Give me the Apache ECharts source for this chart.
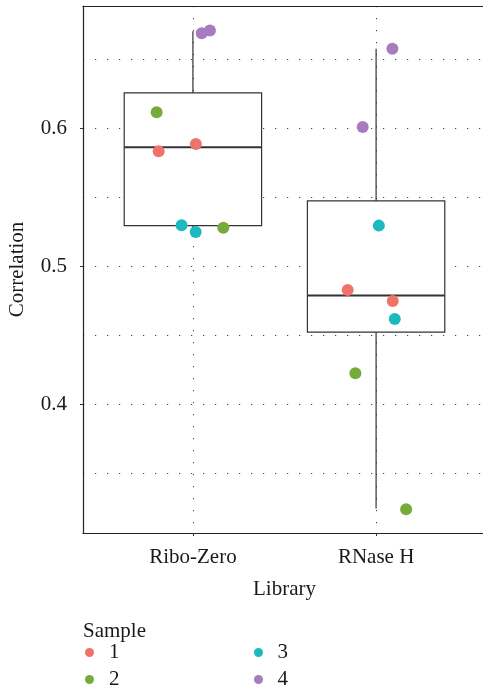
<!DOCTYPE html>
<html>
<head>
<meta charset="utf-8">
<script src="https://cdn.jsdelivr.net/npm/echarts@6/dist/echarts.min.js"></script>
<style>
  html, body { margin: 0; padding: 0; background: #fff; }
  #main { width: 483px; height: 688px; }
</style>
</head>
<body>
<div id="main"></div>
<script>
  // 分类与刻度
  const categories = ['Ribo-Zero', 'RNase H']
  const yLabelValues = [0.4, 0.5, 0.6]
  const yGridValues = [0.35, 0.4, 0.45, 0.5, 0.55, 0.6, 0.65]

  // 箱线：[x, min, Q1, median, Q3, max]
  const riboZeroBox = [1, 0.525, 0.5296, 0.5864, 0.6259, 0.6707]
  const rnaseHBox = [2, 0.3242, 0.4523, 0.4789, 0.5475, 0.6579]

  // 各样本的点（x 为抖动后的位置）
  const sample1 = [[0.813, 0.5835], [1.016, 0.5889], [1.845, 0.4829], [2.091, 0.4749]]
  const sample2 = [[0.802, 0.6118], [1.166, 0.5281], [1.887, 0.4225], [2.164, 0.3238]]
  const sample3 = [[0.938, 0.5298], [1.015, 0.525], [2.015, 0.5296], [2.102, 0.4618]]
  const sample4 = [[1.048, 0.6692], [1.093, 0.6712], [1.927, 0.6012], [2.089, 0.6579]]

  const sampleNames = ['1', '2', '3', '4']
  const colors = ['#EF7369', '#76AB3A', '#1CB9BE', '#A67CBE']

  const font = 'Liberation Serif'
  const fontSize = 21
  const dotted = { color: '#444', width: 1, type: [1.2, 10.8] }
  const frame = { show: true, lineStyle: { color: '#222', width: 1.2 } }

  const chart = echarts.init(document.getElementById('main'))

  function renderBox(params, api) {
    const x = api.value(0)
    const pMin = api.coord([x, api.value(1)])
    const pQ1 = api.coord([x, api.value(2)])
    const pMed = api.coord([x, api.value(3)])
    const pQ3 = api.coord([x, api.value(4)])
    const pMax = api.coord([x, api.value(5)])
    const w = api.size([0.75, 0])[0]
    const stroke = { stroke: '#333', lineWidth: 1.2 }
    return {
      type: 'group',
      children: [
        { type: 'line', shape: { x1: pQ3[0], y1: pQ3[1], x2: pMax[0], y2: pMax[1] }, style: stroke },
        { type: 'line', shape: { x1: pQ1[0], y1: pQ1[1], x2: pMin[0], y2: pMin[1] }, style: stroke },
        {
          type: 'rect',
          shape: { x: pQ3[0] - w / 2, y: pQ3[1], width: w, height: pQ1[1] - pQ3[1] },
          style: { fill: '#fff', stroke: '#333', lineWidth: 1.2 }
        },
        { type: 'line', shape: { x1: pMed[0] - w / 2, y1: pMed[1], x2: pMed[0] + w / 2, y2: pMed[1] }, style: { stroke: '#333', lineWidth: 2 } }
      ]
    }
  }

  const samples = [sample1, sample2, sample3, sample4]

  const legendText = { fontFamily: font, fontSize: fontSize, color: '#1a1a1a', lineHeight: 20 }

  chart.setOption({
    animation: false,
    textStyle: { fontFamily: font, color: '#1a1a1a' },
    grid: {
      left: 83,
      top: 6,
      width: 403,
      height: 527,
      outerBoundsMode: 'none',
      show: false
    },
    title: {
      text: 'Sample',
      left: 78,
      top: 616,
      textStyle: { fontFamily: font, fontSize: fontSize, fontWeight: 'normal', color: '#1a1a1a' }
    },
    legend: [
      {
        data: ['1', '2'],
        orient: 'vertical',
        left: 85,
        top: 642,
        height: 60,
        padding: 0,
        itemWidth: 29,
        itemHeight: 9,
        itemGap: 6,
        icon: 'circle',
        textStyle: legendText
      },
      {
        data: ['3', '4'],
        orient: 'vertical',
        left: 254,
        top: 642,
        height: 60,
        padding: 0,
        itemWidth: 28,
        itemHeight: 9,
        itemGap: 6,
        icon: 'circle',
        textStyle: legendText
      }
    ],
    xAxis: [
      {
        type: 'value',
        min: 0.4,
        max: 2.6,
        name: 'Library',
        nameLocation: 'middle',
        nameGap: 46,
        nameTextStyle: { fontFamily: font, fontSize: fontSize, color: '#1a1a1a' },
        axisLine: frame,
        axisTick: { customValues: [1, 2], length: 3, lineStyle: { color: '#333' } },
        axisLabel: {
          customValues: [1, 2],
          margin: 14,
          fontFamily: font,
          fontSize: fontSize,
          color: '#1a1a1a',
          formatter: (v) => categories[Math.round(v) - 1]
        },
        splitLine: { show: true, lineStyle: dotted }
      },
      {
        type: 'value',
        position: 'top',
        min: 0.4,
        max: 2.6,
        axisLine: frame,
        axisTick: { show: false },
        axisLabel: { show: false },
        splitLine: { show: false }
      }
    ],
    yAxis: [
      {
        type: 'value',
        min: 0.3065,
        max: 0.689,
        name: 'Correlation',
        nameLocation: 'middle',
        nameRotate: 90,
        nameGap: 55,
        nameTextStyle: { fontFamily: font, fontSize: fontSize, color: '#1a1a1a' },
        axisLine: frame,
        axisTick: { show: false, customValues: yGridValues },
        axisLabel: {
          customValues: yLabelValues,
          margin: 16,
          fontFamily: font,
          fontSize: fontSize,
          color: '#1a1a1a',
          formatter: (v) => v.toFixed(1)
        },
        splitLine: { show: true, lineStyle: dotted }
      },
      {
        type: 'value',
        position: 'left',
        min: 0.3065,
        max: 0.689,
        axisLine: { show: false },
        axisTick: { show: true, customValues: yLabelValues, length: 3, lineStyle: { color: '#333' } },
        axisLabel: { show: false },
        splitLine: { show: false }
      }
    ],
    series: [
      {
        type: 'custom',
        name: 'box',
        renderItem: renderBox,
        encode: { x: 0, y: [1, 2, 3, 4, 5] },
        data: [riboZeroBox, rnaseHBox],
        z: 2
      },
      ...samples.map((s, i) => ({
        type: 'scatter',
        name: sampleNames[i],
        data: s,
        symbolSize: 12,
        itemStyle: { color: colors[i], opacity: 1 },
        z: 3
      }))
    ]
  })
</script>
</body>
</html>
